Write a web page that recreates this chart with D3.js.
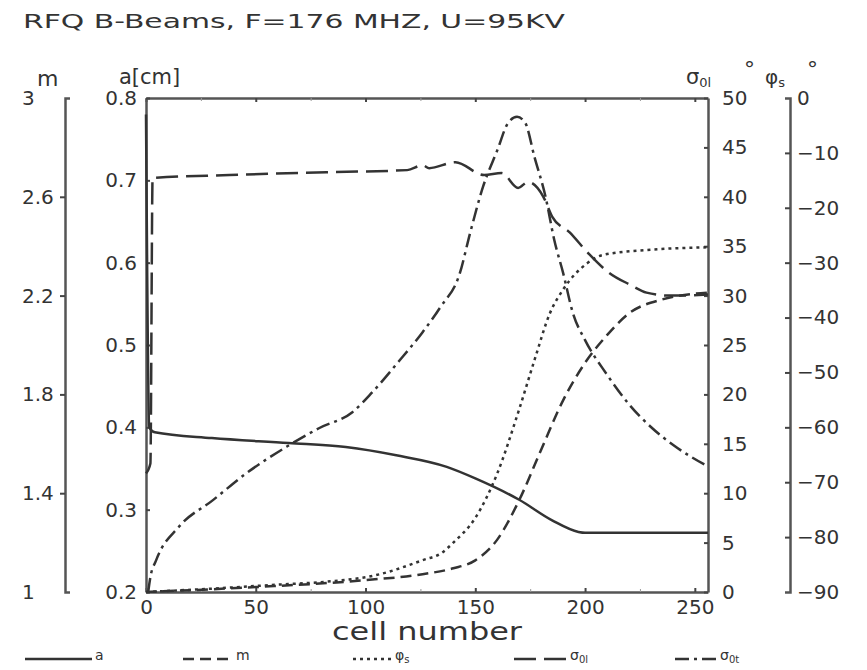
<!DOCTYPE html>
<html>
<head>
<meta charset="utf-8">
<script src="https://cdn.jsdelivr.net/npm/d3@7"></script>
<style>
  body { margin: 0; background: #fff; }
  text { font-family: "DejaVu Sans", sans-serif; fill: #333; }
</style>
</head>
<body>
<div id="chart"></div>
<script>
// values (cell number -> value)
const aCells = [0, 1.5, 4, 30, 65, 91, 114, 137, 150, 170, 185, 197, 200, 256];
const aVals = [0.78, 0.40, 0.394, 0.387, 0.381, 0.376, 0.366, 0.352, 0.338, 0.312, 0.287, 0.273, 0.272, 0.272];

const mCells = [0, 50, 100, 126, 140, 150, 160, 170, 180, 190, 200, 210, 220, 235, 256];
const mVals = [1.00, 1.02, 1.048, 1.072, 1.096, 1.128, 1.212, 1.372, 1.576, 1.776, 1.928, 2.04, 2.128, 2.184, 2.212];

const phiCells = [0, 50, 100, 126, 135, 140, 150, 160, 170, 177, 184, 190, 201, 208, 228, 256];
const phiVals = [-90, -88.9, -87.3, -84.2, -82.8, -81, -76.5, -68.4, -56.7, -47.7, -39.2, -34.9, -30.1, -28.6, -27.7, -27.2];

const sigLCells = [0, 2, 3, 38, 84, 119, 126, 129, 141, 154, 162, 169.5, 174, 181, 185, 193, 201, 211, 220.5, 228, 239, 256];
const sigLVals = [12, 13, 41.9, 42.2, 42.5, 42.7, 43.2, 42.9, 43.5, 42.2, 42.4, 40.9, 41.5, 40, 38, 36.4, 34.4, 32.3, 31.1, 30.3, 30, 30.1];

const sigTCells = [1, 2, 4.6, 15, 30.5, 45.6, 64, 79, 94, 103, 115, 126, 134, 143, 147.6, 153.5, 160, 165, 169, 172.7, 177, 182, 186, 190, 194.5, 200, 210, 220, 230, 240, 256];
const sigTVals = [0, 1.5, 3.2, 6.6, 9.3, 12, 14.7, 16.6, 18.2, 20.2, 23.3, 26.3, 28.8, 32.3, 36.3, 41, 44.7, 47.5, 48.1, 47.5, 44, 40, 35.6, 32.3, 28.2, 25.5, 22, 19, 16.7, 14.9, 12.7];

const xTicks = [0, 50, 100, 150, 200, 250];
const xMinor = [25, 75, 125, 175, 225];
const aTicks = [0.2, 0.3, 0.4, 0.5, 0.6, 0.7, 0.8];
const mTicks = [1, 1.4, 1.8, 2.2, 2.6, 3];
const sigTicks = [0, 5, 10, 15, 20, 25, 30, 35, 40, 45, 50];
const phiTicks = [-90, -80, -70, -60, -50, -40, -30, -20, -10, 0];

const width = 867, height = 670;
const plot = { left: 146, right: 708, top: 98, bottom: 592 };

let svg = d3.select('#chart')
  .append('svg')
  .attr('width', width)
  .attr('height', height);

let x = d3.scaleLinear().domain([0, 256]).range([plot.left, plot.right]);
let yA = d3.scaleLinear().domain([0.2, 0.8]).range([plot.bottom, plot.top]);
let yM = d3.scaleLinear().domain([1, 3]).range([plot.bottom, plot.top]);
let ySig = d3.scaleLinear().domain([0, 50]).range([plot.bottom, plot.top]);
let yPhi = d3.scaleLinear().domain([-90, 0]).range([plot.bottom, plot.top]);

function styleAxis(g, size) {
  g.select('.domain').attr('stroke', '#555').attr('stroke-width', 2.5);
  g.selectAll('.tick line').attr('stroke', '#444').attr('stroke-width', 2);
  g.selectAll('text').style('font-size', size + 'px').style('font-family', '"DejaVu Sans", sans-serif').attr('fill', '#333');
}

// frame: bottom / top / left / right
svg.append('g')
  .attr('transform', `translate(0,${plot.bottom})`)
  .call(d3.axisBottom(x).tickValues(xTicks).tickSizeInner(-4).tickSizeOuter(0).tickPadding(8))
  .call(g => styleAxis(g, 20));

svg.append('g')
  .attr('transform', `translate(0,${plot.bottom})`)
  .call(d3.axisBottom(x).tickValues(xMinor).tickSizeInner(-3).tickSizeOuter(0).tickFormat(''))
  .call(g => { g.select('.domain').remove(); g.selectAll('line').attr('stroke', '#999'); });

svg.append('g')
  .attr('transform', `translate(0,${plot.top})`)
  .call(d3.axisTop(x).tickValues(xTicks).tickSizeInner(-4).tickSizeOuter(0).tickFormat(''))
  .call(g => styleAxis(g, 20));

svg.append('g')
  .attr('transform', `translate(0,${plot.top})`)
  .call(d3.axisTop(x).tickValues(xMinor).tickSizeInner(-3).tickSizeOuter(0).tickFormat(''))
  .call(g => { g.select('.domain').remove(); g.selectAll('line').attr('stroke', '#999'); });

svg.append('g')
  .attr('transform', `translate(${plot.left},0)`)
  .call(d3.axisLeft(yA).tickValues(aTicks).tickSizeInner(-4).tickSizeOuter(0).tickPadding(9).tickFormat(d3.format('.1f')))
  .call(g => styleAxis(g, 20));

svg.append('g')
  .attr('transform', `translate(${plot.right},0)`)
  .call(d3.axisRight(ySig).tickValues(sigTicks).tickSizeInner(-4).tickSizeOuter(0).tickPadding(14))
  .call(g => styleAxis(g, 20));

// m axis (far left)
svg.append('g')
  .attr('transform', 'translate(65,0)')
  .call(d3.axisLeft(yM).tickValues(mTicks).tickSizeInner(5).tickSizeOuter(-5).tickFormat(d3.format('~g')))
  .call(g => {
    styleAxis(g, 20);
    g.selectAll('.tick text').attr('text-anchor', 'start').attr('x', -43);
    g.selectAll('.tick line').filter(d => d === 1 || d === 3).remove();
  });

// phi_s axis (far right)
svg.append('g')
  .attr('transform', 'translate(790,0)')
  .call(d3.axisRight(yPhi).tickValues(phiTicks).tickSizeInner(-5).tickSizeOuter(-5).tickPadding(7).tickFormat(d3.format('d')))
  .call(g => {
    styleAxis(g, 20);
    g.selectAll('.tick line').filter(d => d === 0 || d === -90).remove();
  });

// axis titles
svg.append('text').attr('x', 23).attr('y', 28)
  .attr('textLength', 542).attr('lengthAdjust', 'spacingAndGlyphs')
  .style('font-size', '20px')
  .text('RFQ B-Beams, F=176 MHZ, U=95KV');

svg.append('text').attr('x', 37).attr('y', 86).style('font-size', '22px').text('m');
svg.append('text').attr('x', 119).attr('y', 84).style('font-size', '21px').text('a[cm]');

let sl = svg.append('text').attr('x', 686).attr('y', 84).style('font-size', '21px');
sl.append('tspan').text('σ');
sl.append('tspan').attr('dy', 3).style('font-size', '13px').text('0l');
svg.append('text').attr('x', 744).attr('y', 77).style('font-size', '22px').text('°');

let sp = svg.append('text').attr('x', 765).attr('y', 84).style('font-size', '20px');
sp.append('tspan').text('φ');
sp.append('tspan').attr('dy', 3).style('font-size', '13px').text('s');
svg.append('text').attr('x', 807).attr('y', 77).style('font-size', '22px').text('°');

svg.append('text').attr('x', 427).attr('y', 640)
  .attr('text-anchor', 'middle')
  .attr('textLength', 190).attr('lengthAdjust', 'spacingAndGlyphs')
  .style('font-size', '24px')
  .text('cell number');

// curves
const series = [
  { name: 'a', sub: '', cells: aCells, vals: aVals, y: yA, dash: null, lx: 25, lw: 67 },
  { name: 'm', sub: '', cells: mCells, vals: mVals, y: yM, dash: '11,6', lx: 183, lw: 50 },
  { name: 'φ', sub: 's', cells: phiCells, vals: phiVals, y: yPhi, dash: '3,4', lx: 353, lw: 39 },
  { name: 'σ', sub: '0l', cells: sigLCells, vals: sigLVals, y: ySig, dash: '22,8', lx: 514, lw: 53 },
  { name: 'σ', sub: '0t', cells: sigTCells, vals: sigTVals, y: ySig, dash: '14,5,3,5', lx: 675, lw: 42 }
];

series.forEach(s => {
  let pts = s.cells.map((c, i) => [c, s.vals[i]]);
  let line = d3.line()
    .x(d => x(d[0]))
    .y(d => s.y(d[1]))
    .curve(d3.curveMonotoneX);

  svg.append('path')
    .datum(pts)
    .attr('d', line)
    .attr('fill', 'none')
    .attr('stroke', '#333')
    .attr('stroke-width', 2.5)
    .attr('stroke-dasharray', s.dash);

  // legend
  svg.append('line')
    .attr('x1', s.lx).attr('x2', s.lx + s.lw)
    .attr('y1', 659).attr('y2', 659)
    .attr('stroke', '#333')
    .attr('stroke-width', 2.5)
    .attr('stroke-dasharray', s.dash);

  let t = svg.append('text')
    .attr('x', s.lx + s.lw + 3).attr('y', 660)
    .style('font-size', '14px');
  t.append('tspan').text(s.name);
  if (s.sub) t.append('tspan').attr('dy', 3).style('font-size', '10px').text(s.sub);
});
</script>
</body>
</html>
